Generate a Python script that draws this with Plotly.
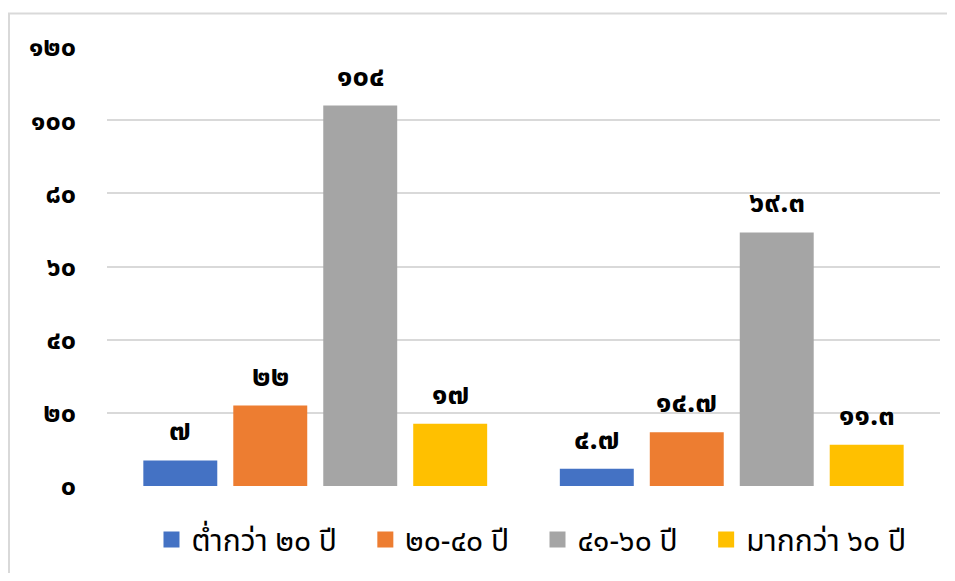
import plotly.graph_objects as go

groups = [0, 1]
series_names = ["ต่ำกว่า ๒๐ ปี", "๒๐-๔๐ ปี", "๔๑-๖๐ ปี", "มากกว่า ๖๐ ปี"]
series_values = [
    [7, 4.7],
    [22, 14.7],
    [104, 69.3],
    [17, 11.3],
]
series_labels = [
    ["๗", "๔.๗"],
    ["๒๒", "๑๔.๗"],
    ["๑๐๔", "๖๙.๓"],
    ["๑๗", "๑๑.๓"],
]
tick_vals = [0, 20, 40, 60, 80, 100, 120]
tick_text = ["๐", "๒๐", "๔๐", "๖๐", "๘๐", "๑๐๐", "๑๒๐"]
colors = ["#4472C4", "#ED7D31", "#A5A5A5", "#FFC000"]

FONT = "Noto Sans Thai, Loma, Garuda, Noto Sans, sans-serif"
bargap = 0.136
bargroupgap = 0.178
PAD = "\u00a0\u00a0\u00a0"

fig = go.Figure()
for name, vals, col in zip(series_names, series_values, colors):
    fig.add_trace(go.Bar(x=groups, y=vals, name=name, showlegend=False,
                         marker=dict(color=col, line=dict(width=0))))
# legend entries with larger square swatches
for name, col in zip(series_names, colors):
    fig.add_trace(go.Scatter(x=[None], y=[None], mode="markers", name=name + PAD,
                             marker=dict(symbol="square", size=20, color=col)))

n = len(series_names)
slot = (1 - bargap) / n
for i, (vals, labs) in enumerate(zip(series_values, series_labels)):
    for g, v, lab in zip(groups, vals, labs):
        fig.add_annotation(x=g + (i - (n - 1) / 2) * slot, y=v, text="<b>" + lab + "</b>",
                           showarrow=False, yanchor="middle", yshift=29,
                           font=dict(size=29, color="#000000", family=FONT))

W, H = 939, 565
ml, mr, mt, mb = 99, 7, 39, 82
pw, ph = W - ml - mr, H - mt - mb
fig.add_shape(type="rect", xref="paper", yref="paper",
              x0=(1 - ml) / pw, x1=1.2, y0=-0.5, y1=(H - mb - 5) / ph,
              line=dict(color="#d9d9d9", width=2), layer="below")

fig.update_layout(
    width=W, height=H,
    margin=dict(l=ml, r=mr, t=mt, b=mb),
    paper_bgcolor="white", plot_bgcolor="white",
    barmode="group", bargap=bargap, bargroupgap=bargroupgap,
    font=dict(family=FONT, color="#000000"),
    showlegend=True,
    legend=dict(orientation="h", x=0.524, xanchor="center", y=-0.122, yanchor="middle",
                font=dict(size=30, family=FONT, color="#000000"),
                itemsizing="trace", itemwidth=30, tracegroupgap=0),
    xaxis=dict(range=[-0.5, 1.5], showticklabels=False, showgrid=False, zeroline=False,
               showline=False, ticks=""),
    yaxis=dict(range=[0, 120], tickvals=tick_vals, ticktext=["<b>" + t + "</b>" for t in tick_text],
               tickfont=dict(size=27, family=FONT, color="#000000"),
               showgrid=True, gridcolor="#d9d9d9", gridwidth=2, zeroline=False,
               showline=False, ticks="", ticklabelstandoff=30),
)

fig.write_html("out.html")
